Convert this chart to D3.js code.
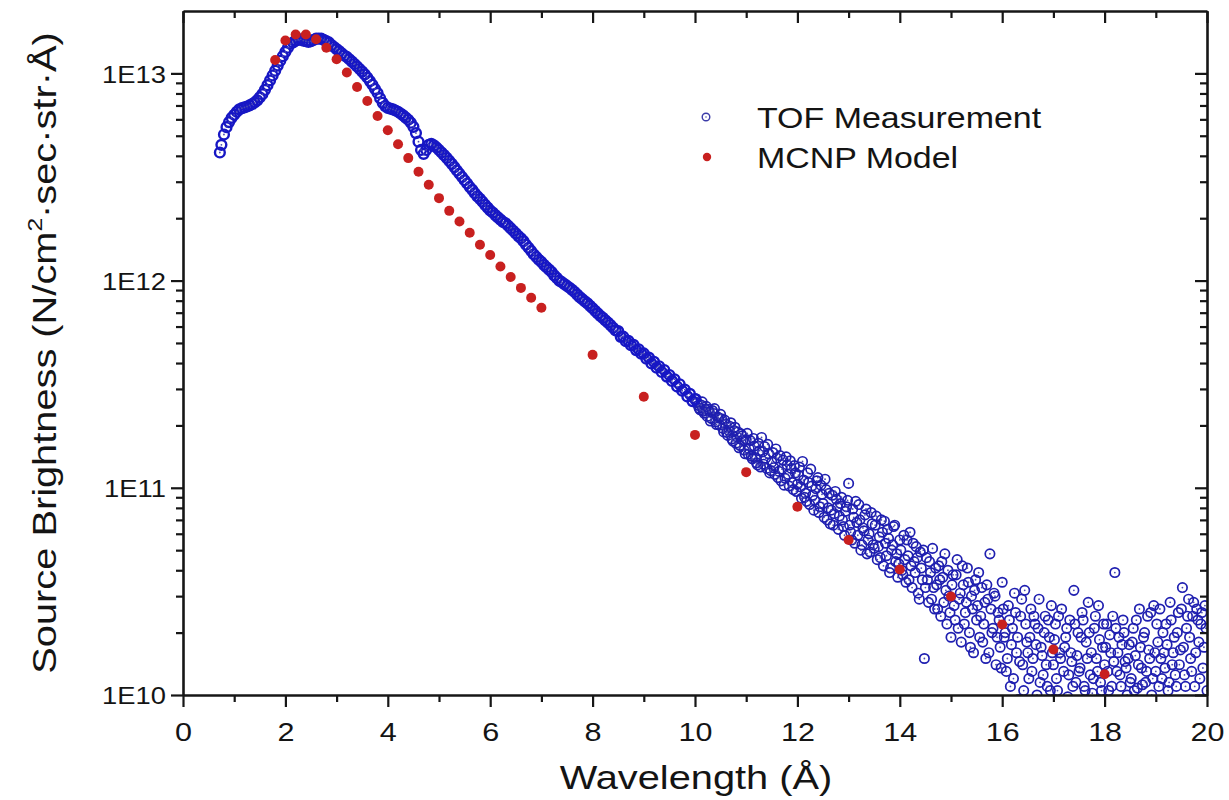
<!DOCTYPE html>
<html><head><meta charset="utf-8">
<script src="https://cdn.jsdelivr.net/npm/d3@7"></script>
<style>
body{margin:0;background:#fff}
svg text{font-family:"Liberation Sans",Arial,Helvetica,sans-serif;fill:#141414}
</style>
</head><body>
<svg id="chart" width="1229" height="800"></svg>
<script>
// ---------------- data ----------------
const xTickValues = [0,2,4,6,8,10,12,14,16,18,20];
const xMinorTicks = [1,3,5,7,9,11,13,15,17,19];
const yTickValues = [1e10,1e11,1e12,1e13];
const yTickLabels = ["1E10","1E11","1E12","1E13"];
const yMinorTicks = [2e10,3e10,4e10,5e10,6e10,7e10,8e10,9e10,2e11,3e11,4e11,5e11,6e11,7e11,8e11,9e11,2e12,3e12,4e12,5e12,6e12,7e12,8e12,9e12];
const seriesNames = ["TOF Measurement","MCNP Model"];
const xTitle = "Wavelength (Å)";

const mcnpLambda = [1.8,2.0,2.2,2.4,2.6,2.8,3.0,3.2,3.4,3.6,3.8,4.0,4.2,4.4,4.6,4.8,5.0,5.2,5.4,5.6,5.8,6.0,6.2,6.4,6.6,6.8,7.0,8,9,10,11,12,13,14,15,16,17,18];
const mcnpFlux = [1.16e13,1.44e13,1.54e13,1.54e13,1.46e13,1.33e13,1.17e13,1.01e13,8.6e12,7.36e12,6.23e12,5.32e12,4.55e12,3.90e12,3.35e12,2.90e12,2.50e12,2.17e12,1.93e12,1.70e12,1.49e12,1.33e12,1.17e12,1.04e12,9.22e11,8.26e11,7.39e11,4.38e11,2.75e11,1.80e11,1.19e11,8.1e10,5.6e10,4.03e10,2.99e10,2.19e10,1.66e10,1.26e10];

// TOF measurement, smooth region: [wavelength, brightness]
const tofMain = [
[0.72,4.15e12],[0.75,4.52e12],[0.80,5.07e12],[0.85,5.50e12],[0.90,5.82e12],[0.95,6.10e12],[1.00,6.31e12],[1.05,6.53e12],[1.10,6.70e12],[1.15,6.79e12],
[1.20,6.85e12],[1.25,6.92e12],[1.30,7.00e12],[1.35,7.11e12],[1.40,7.24e12],[1.45,7.41e12],[1.50,7.66e12],[1.55,7.94e12],[1.60,8.32e12],[1.65,8.77e12],
[1.70,9.25e12],[1.75,9.77e12],[1.80,1.03e13],[1.85,1.09e13],[1.90,1.15e13],[1.95,1.21e13],[2.00,1.27e13],[2.05,1.33e13],[2.10,1.39e13],[2.15,1.41e13],
[2.20,1.44e13],[2.25,1.45e13],[2.30,1.46e13],[2.35,1.44e13],[2.40,1.43e13],[2.45,1.42e13],[2.50,1.43e13],[2.55,1.45e13],[2.60,1.47e13],[2.65,1.47e13],
[2.70,1.47e13],[2.75,1.45e13],[2.80,1.43e13],[2.85,1.41e13],[2.90,1.37e13],[2.95,1.34e13],[3.00,1.31e13],[3.05,1.28e13],[3.10,1.25e13],[3.15,1.22e13],
[3.20,1.20e13],[3.25,1.17e13],[3.30,1.14e13],[3.35,1.11e13],[3.40,1.08e13],[3.45,1.05e13],[3.50,1.02e13],[3.55,9.89e12],[3.60,9.55e12],[3.65,9.18e12],
[3.70,8.81e12],[3.75,8.41e12],[3.80,8.04e12],[3.85,7.59e12],[3.90,7.21e12],[3.95,6.95e12],[4.00,6.82e12],[4.05,6.76e12],[4.10,6.70e12],[4.15,6.62e12],
[4.20,6.53e12],[4.25,6.40e12],[4.30,6.27e12],[4.35,6.12e12],[4.40,5.97e12],[4.45,5.78e12],[4.50,5.52e12],[4.55,5.15e12],[4.60,4.68e12],[4.65,4.27e12],
[4.70,4.09e12],[4.75,4.27e12],[4.80,4.52e12],[4.85,4.57e12],[4.90,4.49e12],[4.95,4.39e12],[5.00,4.27e12],[5.05,4.15e12],[5.10,4.03e12],[5.15,3.91e12],
[5.20,3.78e12],[5.25,3.66e12],[5.30,3.53e12],[5.35,3.40e12],[5.40,3.28e12],[5.45,3.16e12],[5.50,3.05e12],[5.55,2.94e12],[5.60,2.83e12],[5.65,2.74e12],
[5.70,2.64e12],[5.75,2.55e12],[5.80,2.48e12],[5.85,2.40e12],[5.90,2.32e12],[5.95,2.25e12],[6.00,2.18e12],[6.05,2.13e12],[6.10,2.07e12],[6.15,2.02e12],
[6.20,1.97e12],[6.25,1.92e12],[6.30,1.89e12],[6.35,1.84e12],[6.40,1.79e12],[6.45,1.74e12],[6.50,1.69e12],[6.55,1.64e12],[6.60,1.60e12],[6.65,1.55e12],
[6.70,1.49e12],[6.75,1.44e12],[6.80,1.39e12],[6.85,1.34e12],[6.90,1.30e12],[6.95,1.26e12],[7.00,1.23e12],[7.05,1.19e12],[7.10,1.16e12],[7.15,1.13e12],
[7.20,1.10e12],[7.25,1.06e12],[7.30,1.03e12],[7.35,1.00e12],[7.40,9.82e11],[7.45,9.62e11],[7.50,9.42e11],[7.55,9.23e11],[7.60,9.02e11],[7.65,8.81e11],
[7.70,8.55e11],[7.75,8.32e11],[7.80,8.13e11],[7.85,7.94e11],[7.90,7.76e11],[7.95,7.55e11],[8.00,7.35e11],[8.05,7.14e11],[8.10,6.95e11],[8.15,6.76e11],
[8.20,6.61e11],[8.25,6.43e11],[8.30,6.27e11],[8.35,6.10e11],[8.40,5.92e11],[8.45,5.75e11],[8.50,5.70e11],[8.55,5.35e11],[8.60,5.36e11],[8.65,5.10e11],
[8.70,5.12e11],[8.75,4.88e11],[8.80,4.90e11],[8.85,4.62e11],[8.90,4.66e11],[8.95,4.44e11],[9.00,4.45e11],[9.05,4.20e11],[9.10,4.25e11],[9.15,3.98e11],
[9.20,4.05e11],[9.25,3.80e11],[9.30,3.86e11],[9.35,3.62e11],[9.40,3.70e11],[9.45,3.44e11],[9.50,3.50e11],[9.55,3.28e11],[9.60,3.34e11],[9.65,3.08e11],
[9.70,3.16e11],[9.75,2.94e11],[9.80,2.98e11],[9.85,2.76e11],[9.90,2.84e11],[9.95,2.62e11],[10.00,2.68e11]
];

// TOF measurement, noisy tail (first pass of bins)
const tofTailA = [
[10.04,25.8e10],[10.08,24.2e10],[10.12,25.1e10],[10.16,23.4e10],[10.20,24.0e10],[10.24,22.1e10],[10.28,23.3e10],[10.32,21.6e10],[10.36,22.9e10],[10.40,20.8e10],[10.44,22.0e10],[10.48,20.1e10],
[10.52,21.5e10],[10.56,18.6e10],[10.60,20.3e10],[10.64,17.9e10],[10.68,19.8e10],[10.72,17.2e10],[10.76,18.9e10],[10.80,16.4e10],[10.84,18.6e10],[10.88,16.0e10],[10.92,17.8e10],[10.96,15.2e10],[11.00,17.1e10],
[11.04,14.5e10],[11.08,16.9e10],[11.12,13.8e10],[11.16,15.9e10],[11.20,13.2e10],[11.24,16.4e10],[11.28,12.6e10],[11.32,14.9e10],[11.36,15.8e10],[11.40,12.4e10],[11.44,14.6e10],[11.48,12.1e10],
[11.52,14.8e10],[11.56,11.6e10],[11.60,13.9e10],[11.64,12.0e10],[11.68,10.8e10],[11.72,13.6e10],[11.76,11.1e10],[11.80,12.9e10],[11.84,10.2e10],[11.88,12.4e10],[11.92,9.8e10],[11.96,11.8e10],[12.00,10.4e10],
[12.04,12.6e10],[12.08,8.9e10],[12.12,10.9e10],[12.16,9.4e10],[12.20,11.8e10],[12.24,8.3e10],[12.28,10.2e10],[12.32,7.8e10],[12.36,9.9e10],[12.40,11.2e10],[12.44,8.1e10],[12.48,9.3e10],
[12.52,7.2e10],[12.56,9.8e10],[12.60,8.0e10],[12.64,6.7e10],[12.68,9.2e10],[12.72,7.5e10],[12.76,8.8e10],[12.80,6.3e10],[12.84,8.4e10],[12.88,7.0e10],[12.92,5.9e10],[12.96,8.1e10],[13.00,10.5e10],
[13.04,6.1e10],[13.08,7.9e10],[13.12,5.4e10],[13.16,6.8e10],[13.20,8.3e10],[13.24,5.0e10],[13.28,6.4e10],[13.32,7.4e10],[13.36,4.8e10],[13.40,6.0e10],[13.44,7.6e10],[13.48,5.3e10],
[13.52,6.6e10],[13.56,4.5e10],[13.60,5.8e10],[13.64,7.0e10],[13.68,4.2e10],[13.72,5.4e10],[13.76,6.3e10],[13.80,3.9e10],[13.84,5.0e10],[13.88,6.5e10],[13.92,4.4e10],[13.96,3.7e10],[14.00,5.6e10],
[14.04,4.0e10],[14.08,5.9e10],[14.12,3.5e10],[14.16,4.7e10],[14.20,6.1e10],[14.24,3.3e10],[14.28,4.4e10],[14.32,5.2e10],[14.36,3.1e10],[14.40,4.9e10],[14.44,3.6e10],[14.48,1.5e10],
[14.52,4.6e10],[14.56,2.8e10],[14.60,3.9e10],[14.64,5.1e10],[14.68,2.6e10],[14.72,3.4e10],[14.76,4.2e10],[14.80,2.4e10],[14.84,3.7e10],[14.88,4.8e10],[14.92,2.2e10],[14.96,3.0e10],[15.00,1.9e10],
[15.04,3.8e10],[15.08,2.3e10],[15.12,4.5e10],[15.16,2.9e10],[15.20,1.8e10],[15.24,3.4e10],[15.28,2.5e10],[15.32,4.1e10],[15.36,2.0e10],[15.40,3.0e10],[15.44,1.6e10],[15.48,3.6e10],
[15.52,2.7e10],[15.56,1.9e10],[15.60,3.3e10],[15.64,2.2e10],[15.68,1.5e10],[15.72,2.9e10],[15.76,4.8e10],[15.80,2.0e10],[15.84,3.1e10],[15.88,1.4e10],[15.92,2.5e10],[15.96,1.7e10],[16.00,3.5e10],
[16.04,1.9e10],[16.08,1.3e10],[16.12,2.7e10],[16.16,1.1e10],[16.20,2.1e10],[16.24,3.1e10],[16.28,1.6e10],[16.32,0.95e10],[16.36,2.4e10],[16.40,1.4e10],[16.44,3.2e10],[16.48,1.8e10],
[16.52,1.2e10],[16.56,2.6e10],[16.60,1.5e10],[16.64,2.2e10],[16.68,1.0e10],[16.72,2.9e10],[16.76,1.7e10],[16.80,1.25e10],[16.84,2.4e10],[16.88,1.1e10],[16.92,1.9e10],[16.96,2.7e10],[17.00,1.4e10],
[17.04,2.2e10],[17.08,1.05e10],[17.12,1.6e10],[17.16,2.6e10],[17.20,1.3e10],[17.24,1.9e10],[17.28,0.98e10],[17.32,2.3e10],[17.36,1.45e10],[17.40,3.2e10],[17.44,1.15e10],[17.48,2.0e10],
[17.52,1.35e10],[17.56,2.5e10],[17.60,1.1e10],[17.64,1.8e10],[17.68,2.8e10],[17.72,1.25e10],[17.76,1.02e10],[17.80,2.1e10],[17.84,1.5e10],[17.88,2.7e10],[17.92,1.15e10],[17.96,1.7e10],[18.00,1.4e10],
[18.04,2.2e10],[18.08,1.05e10],[18.12,1.6e10],[18.16,2.4e10],[18.20,3.9e10],[18.24,1.3e10],[18.28,1.9e10],[18.32,1.1e10],[18.36,2.3e10],[18.40,1.45e10],[18.44,1.0e10],[18.48,1.75e10],
[18.52,1.2e10],[18.56,2.1e10],[18.60,1.55e10],[18.64,1.08e10],[18.68,2.6e10],[18.72,1.35e10],[18.76,1.9e10],[18.80,1.15e10],[18.84,2.4e10],[18.88,1.5e10],[18.92,1.0e10],[18.96,2.7e10],[19.00,1.3e10],
[19.04,1.8e10],[19.08,2.6e10],[19.12,1.2e10],[19.16,1.6e10],[19.20,2.2e10],[19.24,1.05e10],[19.28,2.8e10],[19.32,1.4e10],[19.36,1.9e10],[19.40,1.1e10],[19.44,2.5e10],[19.48,1.65e10],
[19.52,3.3e10],[19.56,1.25e10],[19.60,2.1e10],[19.64,2.9e10],[19.68,1.5e10],[19.72,2.4e10],[19.76,1.1e10],[19.80,2.6e10],[19.84,1.8e10],[19.88,2.2e10],[19.92,1.35e10],[19.96,2.7e10],[20.00,1.05e10]
];

// TOF measurement, noisy tail (interleaved bins)
const tofTailB = [
[10.02,26.9e10],[10.06,25.0e10],[10.10,23.8e10],[10.14,26.0e10],[10.18,22.9e10],[10.22,24.7e10],[10.26,23.9e10],[10.30,21.0e10],[10.34,23.6e10],[10.38,24.1e10],[10.42,20.2e10],[10.46,21.7e10],
[10.50,22.6e10],[10.54,19.4e10],[10.58,21.2e10],[10.62,18.5e10],[10.66,18.9e10],[10.70,20.6e10],[10.74,16.8e10],[10.78,19.6e10],[10.82,17.6e10],[10.86,15.6e10],[10.90,18.2e10],[10.94,16.9e10],[10.98,14.6e10],
[11.02,18.3e10],[11.06,15.4e10],[11.10,14.2e10],[11.14,17.3e10],[11.18,14.0e10],[11.22,12.9e10],[11.26,15.1e10],[11.30,17.5e10],[11.34,13.0e10],[11.38,13.9e10],[11.42,16.2e10],[11.46,11.8e10],
[11.50,13.3e10],[11.54,12.5e10],[11.58,15.4e10],[11.62,11.2e10],[11.66,14.3e10],[11.70,12.3e10],[11.74,10.3e10],[11.78,14.1e10],[11.82,11.6e10],[11.86,13.5e10],[11.90,10.6e10],[11.94,12.8e10],[11.98,9.6e10],
[12.02,11.5e10],[12.06,10.1e10],[12.10,13.4e10],[12.14,9.0e10],[12.18,8.6e10],[12.22,10.6e10],[12.26,12.3e10],[12.30,9.2e10],[12.34,8.7e10],[12.38,10.8e10],[12.42,7.6e10],[12.46,10.3e10],
[12.50,8.4e10],[12.54,11.0e10],[12.58,7.0e10],[12.62,9.4e10],[12.66,7.8e10],[12.70,6.6e10],[12.74,9.6e10],[12.78,8.1e10],[12.82,7.3e10],[12.86,9.0e10],[12.90,6.5e10],[12.94,7.7e10],[12.98,8.7e10],
[13.02,6.6e10],[13.06,5.6e10],[13.10,7.2e10],[13.14,8.6e10],[13.18,5.9e10],[13.22,7.0e10],[13.26,5.3e10],[13.30,6.2e10],[13.34,7.9e10],[13.38,5.6e10],[13.42,4.9e10],[13.46,6.7e10],
[13.50,5.1e10],[13.54,7.3e10],[13.58,5.2e10],[13.62,4.6e10],[13.66,6.1e10],[13.70,6.9e10],[13.74,4.7e10],[13.78,5.7e10],[13.82,4.1e10],[13.86,5.3e10],[13.90,6.6e10],[13.94,4.8e10],[13.98,4.3e10],
[14.02,5.0e10],[14.06,3.8e10],[14.10,4.5e10],[14.14,5.6e10],[14.18,3.6e10],[14.22,4.2e10],[14.26,5.4e10],[14.30,3.9e10],[14.34,4.6e10],[14.38,2.9e10],[14.42,4.1e10],[14.46,5.0e10],
[14.50,3.3e10],[14.54,3.6e10],[14.58,4.4e10],[14.62,2.9e10],[14.66,3.3e10],[14.70,4.1e10],[14.74,2.6e10],[14.78,3.6e10],[14.82,4.4e10],[14.86,2.8e10],[14.90,3.2e10],[14.94,4.0e10],[14.98,2.5e10],
[15.02,3.4e10],[15.06,2.7e10],[15.10,3.8e10],[15.14,2.1e10],[15.18,3.1e10],[15.22,4.2e10],[15.26,2.2e10],[15.30,2.8e10],[15.34,3.5e10],[15.38,1.7e10],[15.42,2.6e10],[15.46,3.2e10],
[15.50,2.3e10],[15.54,3.9e10],[15.58,2.4e10],[15.62,1.8e10],[15.66,2.8e10],[15.70,3.4e10],[15.74,1.6e10],[15.78,2.6e10],[15.82,2.1e10],[15.86,3.0e10],[15.90,1.9e10],[15.94,2.3e10],[15.98,1.35e10],
[16.02,2.6e10],[16.06,2.0e10],[16.10,1.5e10],[16.14,2.3e10],[16.18,1.75e10],[16.22,1.2e10],[16.26,2.5e10],[16.30,1.9e10],[16.34,1.45e10],[16.38,2.9e10],[16.42,1.05e10],[16.46,2.2e10],
[16.50,1.6e10],[16.54,1.9e10],[16.58,1.3e10],[16.62,2.4e10],[16.66,1.75e10],[16.70,2.1e10],[16.74,1.15e10],[16.78,1.55e10],[16.82,2.0e10],[16.86,1.4e10],[16.90,2.3e10],[16.94,1.05e10],[16.98,1.6e10],
[17.02,1.85e10],[17.06,1.2e10],[17.10,2.4e10],[17.14,1.5e10],[17.18,0.92e10],[17.22,1.7e10],[17.26,2.1e10],[17.30,1.25e10],[17.34,1.6e10],[17.38,1.1e10],[17.42,2.2e10],[17.46,1.55e10],
[17.50,1.3e10],[17.54,1.9e10],[17.58,2.3e10],[17.62,1.05e10],[17.66,1.5e10],[17.70,2.0e10],[17.74,1.6e10],[17.78,1.2e10],[17.82,2.4e10],[17.86,1.3e10],[17.90,1.85e10],[17.94,1.05e10],[17.98,2.2e10],
[18.02,1.7e10],[18.06,1.3e10],[18.10,1.95e10],[18.14,1.1e10],[18.18,1.45e10],[18.22,2.1e10],[18.26,1.6e10],[18.30,1.25e10],[18.34,1.75e10],[18.38,2.0e10],[18.42,1.35e10],[18.46,1.5e10],
[18.50,1.15e10],[18.54,1.8e10],[18.58,1.05e10],[18.62,2.3e10],[18.66,1.4e10],[18.70,1.7e10],[18.74,1.12e10],[18.78,2.0e10],[18.82,1.3e10],[18.86,1.65e10],[18.90,2.5e10],[18.94,1.2e10],[18.98,1.6e10],
[19.02,2.2e10],[19.06,1.1e10],[19.10,1.5e10],[19.14,2.0e10],[19.18,1.35e10],[19.22,1.75e10],[19.26,1.15e10],[19.30,2.3e10],[19.34,1.6e10],[19.38,1.25e10],[19.42,2.0e10],[19.46,1.4e10],
[19.50,2.6e10],[19.54,1.7e10],[19.58,1.1e10],[19.62,2.4e10],[19.66,1.9e10],[19.70,1.3e10],[19.74,2.8e10],[19.78,1.6e10],[19.82,2.3e10],[19.86,1.2e10],[19.90,2.5e10],[19.94,1.7e10],[19.98,2.1e10]
];

// ---------------- drawing ----------------
const tofTail = tofTailA.concat(tofTailB);
const svg = d3.select("#chart");
const L = 183, R = 1207, T = 11, B = 695;
const STRETCH = 1.17;
const x = d3.scaleLinear().domain([0,20]).range([L,R]);
const y = d3.scaleLog().domain([1e10,2e13]).range([B,T]);

function stretchText(sel, k){
  sel.each(function(){
    const n = this; const len = n.getComputedTextLength();
    n.setAttribute("textLength", (len*k).toFixed(1));
    n.setAttribute("lengthAdjust","spacingAndGlyphs");
  });
}

svg.append("defs").append("clipPath").attr("id","plotclip")
  .append("rect").attr("x",L).attr("y",T).attr("width",R-L).attr("height",B-T);

const plot = svg.append("g").attr("clip-path","url(#plotclip)");

// TOF circles: tail (thin) then the dense region (heavier, merges into a band)
function drawTof(g, data, r, sw, col){
  g.selectAll("circle.o").data(data).join("circle").attr("class","o")
    .attr("cx",d=>x(d[0])).attr("cy",d=>y(d[1])).attr("r",r)
    .attr("fill","none").attr("stroke",col).attr("stroke-width",sw);
  g.selectAll("circle.c").data(data).join("circle").attr("class","c")
    .attr("cx",d=>x(d[0])).attr("cy",d=>y(d[1])).attr("r",0.9)
    .attr("fill","#4a4ab0");
}
drawTof(plot.append("g"), tofTail, 4.7, 1.7, "#1f1fb0");
drawTof(plot.append("g"), tofMain, 4.9, 2.4, "#1717c4");

// MCNP dots
plot.append("g").selectAll("circle").data(mcnpLambda.map((l,i)=>[l,mcnpFlux[i]])).join("circle")
  .attr("cx",d=>x(d[0])).attr("cy",d=>y(d[1])).attr("r",5)
  .attr("fill","#c8201f");

// axes
function styleAxis(g){
  g.select(".domain").attr("stroke","#161616").attr("stroke-width",2.6);
  g.selectAll(".tick line").attr("stroke","#161616").attr("stroke-width",2.2);
}
const fmtX = d=>String(d);
const gB = svg.append("g").attr("transform",`translate(0,${B})`)
  .call(d3.axisBottom(x).tickValues(xTickValues).tickSize(12).tickSizeOuter(0).tickFormat(fmtX));
styleAxis(gB);
gB.selectAll(".tick text").attr("y",46).attr("dy",null).attr("font-size",25).attr("fill","#141414");
stretchText(gB.selectAll(".tick text"), 1.22);
svg.append("g").attr("transform",`translate(0,${B})`)
  .call(d3.axisBottom(x).tickValues(xMinorTicks).tickSize(7).tickSizeOuter(0).tickFormat(""))
  .call(g=>{styleAxis(g); g.select(".domain").remove();});
const gT = svg.append("g").attr("transform",`translate(0,${T})`)
  .call(d3.axisTop(x).tickValues(xTickValues).tickSize(-12).tickSizeOuter(0).tickFormat(""));
styleAxis(gT);
svg.append("g").attr("transform",`translate(0,${T})`)
  .call(d3.axisTop(x).tickValues(xMinorTicks).tickSize(-7).tickSizeOuter(0).tickFormat(""))
  .call(g=>{styleAxis(g); g.select(".domain").remove();});
const gL = svg.append("g").attr("transform",`translate(${L},0)`)
  .call(d3.axisLeft(y).tickValues(yTickValues).tickSize(12).tickSizeOuter(0).tickFormat((d,i)=>yTickLabels[i]));
styleAxis(gL);
gL.selectAll(".tick text").attr("x",-17).attr("dy","0.36em").attr("font-size",24).attr("fill","#141414");
stretchText(gL.selectAll(".tick text"), 1.14);
svg.append("g").attr("transform",`translate(${L},0)`)
  .call(d3.axisLeft(y).tickValues(yMinorTicks).tickSize(7).tickSizeOuter(0).tickFormat(""))
  .call(g=>{styleAxis(g); g.select(".domain").remove();});
const gR = svg.append("g").attr("transform",`translate(${R},0)`)
  .call(d3.axisRight(y).tickValues(yTickValues).tickSize(-12).tickSizeOuter(0).tickFormat(""));
styleAxis(gR);
svg.append("g").attr("transform",`translate(${R},0)`)
  .call(d3.axisRight(y).tickValues(yMinorTicks).tickSize(-7).tickSizeOuter(0).tickFormat(""))
  .call(g=>{styleAxis(g); g.select(".domain").remove();});

// axis titles
svg.append("text").attr("transform",`translate(696,789) scale(${STRETCH},1)`)
  .attr("text-anchor","middle").attr("font-size",34).text(xTitle);

const yt = svg.append("text").attr("transform",`translate(56,353) rotate(-90) scale(${STRETCH},1)`)
  .attr("text-anchor","middle").attr("font-size",34);
yt.append("tspan").text("Source Brightness (N/cm");
yt.append("tspan").attr("font-size",21).attr("dy",-14).text("2");
yt.append("tspan").attr("dy",14).text("·sec·str·Å)");

// legend
const leg = svg.append("g");
leg.append("circle").attr("cx",706).attr("cy",117).attr("r",3.8)
  .attr("fill","#fff").attr("stroke","#3b3ba8").attr("stroke-width",1.4);
leg.append("circle").attr("cx",706).attr("cy",117).attr("r",0.8).attr("fill","#5a5ab0");
leg.append("circle").attr("cx",707).attr("cy",157).attr("r",4.2).attr("fill","#c8201f");
const lt = leg.selectAll("text").data(seriesNames).join("text")
  .attr("x",757).attr("y",(d,i)=>128+i*40).attr("font-size",29).text(d=>d);
stretchText(lt, STRETCH);
</script>
</body></html>
